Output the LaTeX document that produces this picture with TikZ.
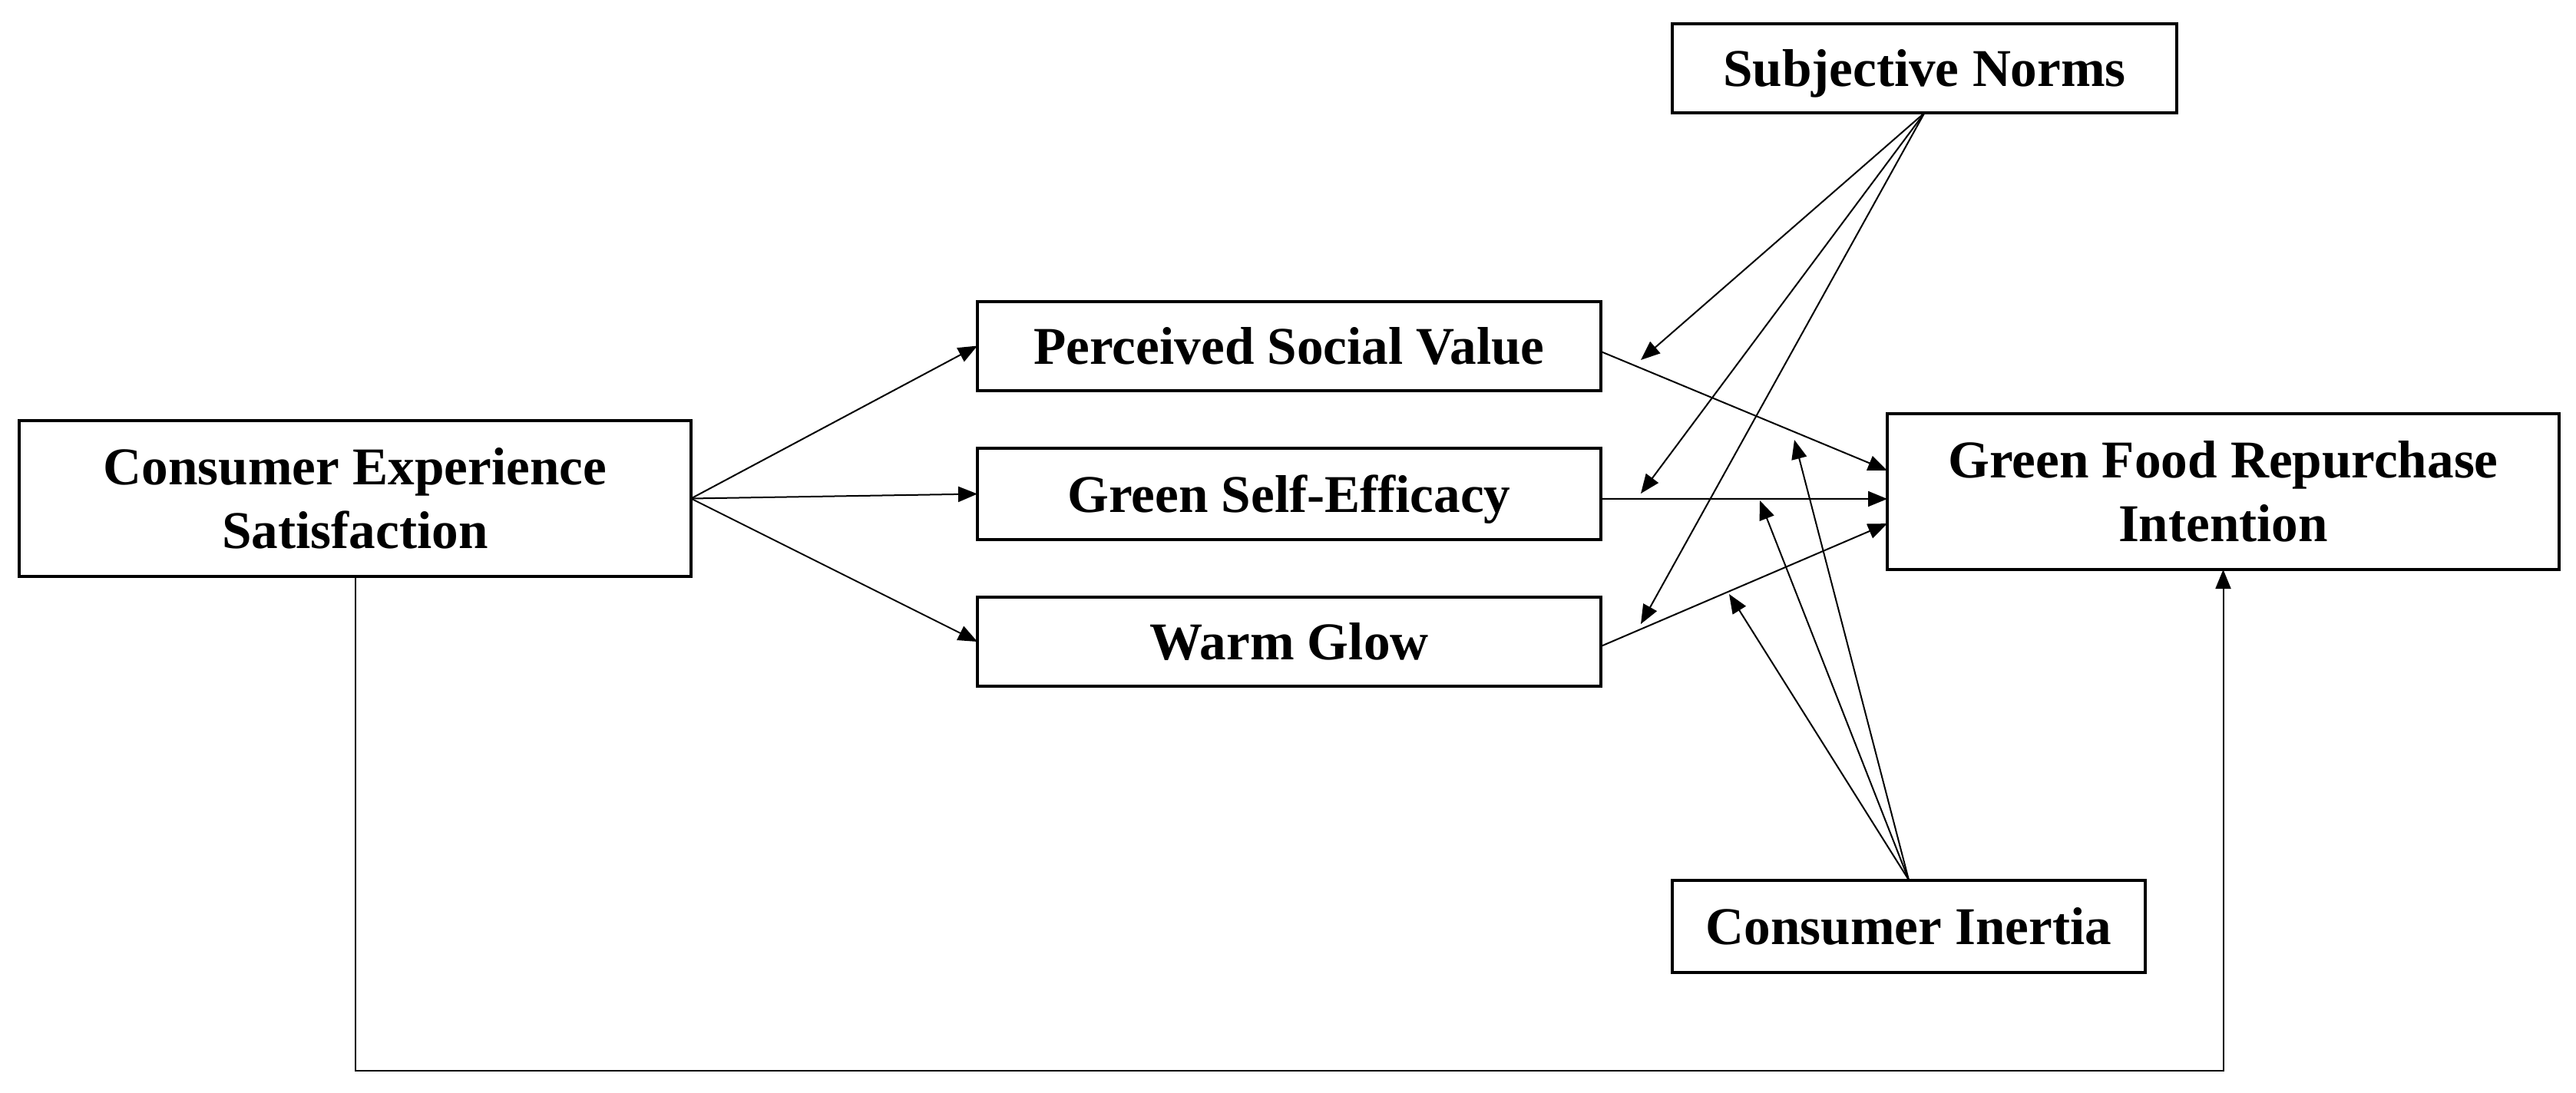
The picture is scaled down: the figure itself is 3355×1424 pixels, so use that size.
\documentclass[tikz,border=0pt]{standalone}
\usepackage{fontspec}
\setmainfont{Liberation Serif}
\usetikzlibrary{arrows.meta}
\begin{document}
\begin{tikzpicture}[x=0.25pt,y=-0.25pt,
  box/.style={draw=black,line width=1pt,inner sep=0pt,outer sep=0pt,fill=white,
    font=\fontsize{17.3pt}{20.75pt}\selectfont\bfseries,align=center},
  onebox/.style={box,text height=11.8pt,text depth=0pt},
  arr/.style={draw=black,line width=0.5pt,-{Triangle[length=6.25pt,width=5pt]}}]
\fill[white] (0,0) rectangle (3355,1424);
\useasboundingbox (0,0) rectangle (3355,1424);
% nodes
\node[box,minimum width=218.75pt,minimum height=50.75pt] (CES) at (462.5,649.5) {Consumer Experience\\Satisfaction};
\node[onebox,minimum width=164.25pt,minimum height=29pt] (SN) at (2506.5,89) {Subjective Norms};
\node[onebox,minimum width=203pt,minimum height=29pt] (PSV) at (1679,450.5) {Perceived Social Value};
\node[onebox,minimum width=203pt,minimum height=29.75pt] (GSE) at (1679,643.5) {Green Self-Efficacy};
\node[onebox,minimum width=203pt,minimum height=29pt] (WG) at (1679,836) {Warm Glow};
\node[box,minimum width=218.75pt,minimum height=50.75pt] (GFRI) at (2895.5,640.5) {Green Food Repurchase\\Intention};
\node[onebox,minimum width=154pt,minimum height=30pt] (CI) at (2486,1206.5) {Consumer Inertia};
% free arrow ends
\coordinate (snA) at (2137,469);
\coordinate (snB) at (2137,643);
\coordinate (snC) at (2137,813);
\coordinate (ciA) at (2337,573);
\coordinate (ciB) at (2292,652);
\coordinate (ciC) at (2252,774);
% connectors
\draw[arr] (CES.east) -- (PSV.west);
\draw[arr] (CES.east) -- (GSE.west);
\draw[arr] (CES.east) -- (WG.west);
\draw[arr] ([yshift=-1.875pt]PSV.east) -- ([yshift=6.875pt]GFRI.west);
\draw[arr] ([yshift=-1.6pt]GSE.east) -- ([yshift=-2.375pt]GFRI.west);
\draw[arr] ([yshift=-1.5pt]WG.east) -- ([yshift=-10.4pt]GFRI.west);
\draw[arr] (SN.south) -- (snA);
\draw[arr] (SN.south) -- (snB);
\draw[arr] (SN.south) -- (snC);
\draw[arr] (CI.north) -- (ciA);
\draw[arr] (CI.north) -- (ciB);
\draw[arr] (CI.north) -- (ciC);
\draw[arr] (CES.south) -- (CES.south |- 0,1395) -| (GFRI.south);
\end{tikzpicture}
\end{document}
